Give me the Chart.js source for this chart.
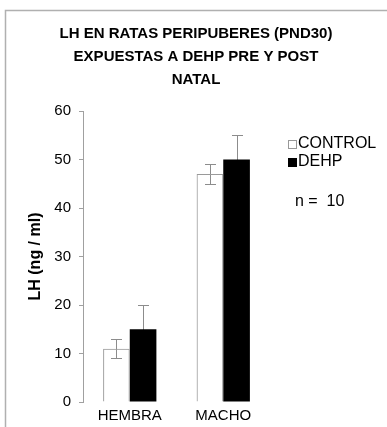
<!DOCTYPE html>
<html>
<head>
<meta charset="utf-8">
<script src="https://cdn.jsdelivr.net/npm/chart.js@4.4.0/dist/chart.umd.min.js"></script>
<style>
html,body{margin:0;padding:0;background:#fff;}
#wrap{width:387px;height:427px;position:relative;}
</style>
</head>
<body>
<div id="wrap"><canvas id="c" width="387" height="427"></canvas></div>
<script>
const categories = ["HEMBRA", "MACHO"];
const seriesNames = ["CONTROL", "DEHP"];
const controlValues = [11, 47];
const controlErrors = [2, 2];
const dehpValues = [15, 50];
const dehpErrors = [5, 5];
const titleLines = ["LH EN RATAS PERIPUBERES (PND30)", "EXPUESTAS A DEHP PRE Y POST", "NATAL"];
const yAxisTitle = "LH (ng / ml)";
const noteText = "n =  10";
const yMin = 0, yMax = 60, yStep = 10;

const FONT = "'Liberation Sans', Arial, sans-serif";
const errors = [controlErrors, dehpErrors];

const framePlugin = {
  id: 'frame',
  beforeDraw(chart) {
    const ctx = chart.ctx;
    ctx.save();
    ctx.fillStyle = '#fff';
    ctx.fillRect(0, 0, chart.width, chart.height);
    ctx.strokeStyle = '#b0b0b0';
    ctx.lineWidth = 1.5;
    ctx.beginPath();
    ctx.moveTo(5.5, chart.height);
    ctx.lineTo(5.5, 10.5);
    ctx.lineTo(chart.width, 10.5);
    ctx.stroke();
    // title
    ctx.fillStyle = '#000';
    ctx.font = "bold 15px " + FONT;
    ctx.textAlign = 'center';
    ctx.textBaseline = 'middle';
    titleLines.forEach((t, i) => ctx.fillText(t, 196, 34 + i * 23));
    ctx.restore();
  }
};

const errorPlugin = {
  id: 'errbars',
  beforeDatasetsDraw(chart) {
    const ctx = chart.ctx;
    const y = chart.scales.y;
    ctx.save();
    ctx.strokeStyle = '#8c8c8c';
    ctx.lineWidth = 1;
    chart.data.datasets.forEach((ds, di) => {
      const meta = chart.getDatasetMeta(di);
      meta.data.forEach((bar, i) => {
        const v = ds.data[i], e = errors[di][i];
        const x = Math.round(bar.x) + 0.5;
        const yt = Math.round(y.getPixelForValue(v + e)) + 0.5;
        const yb = Math.round(y.getPixelForValue(v - e)) + 0.5;
        const cap = 5.5;
        ctx.beginPath();
        ctx.moveTo(x, yt); ctx.lineTo(x, yb);
        ctx.moveTo(x - cap, yt); ctx.lineTo(x + cap, yt);
        ctx.moveTo(x - cap, yb); ctx.lineTo(x + cap, yb);
        ctx.stroke();
      });
    });
    ctx.restore();
  }
};

const legendPlugin = {
  id: 'customLegend',
  afterDraw(chart) {
    const ctx = chart.ctx;
    ctx.save();
    ctx.font = "16px " + FONT;
    ctx.textBaseline = 'middle';
    const rows = [144, 162];
    chart.data.datasets.forEach((ds, i) => {
      const by = rows[i];
      if (i === 0) {
        ctx.fillStyle = '#fff';
        ctx.fillRect(288.5, by - 3.5, 8, 8);
        ctx.strokeStyle = '#999';
        ctx.lineWidth = 1;
        ctx.strokeRect(288.5, by - 3.5, 8, 8);
      } else {
        ctx.fillStyle = '#000';
        ctx.fillRect(288, by - 4, 9, 9);
      }
      ctx.fillStyle = '#000';
      ctx.fillText(ds.label, 298, by);
    });
    ctx.fillText(noteText, 295, 202);
    ctx.restore();
  }
};

new Chart(document.getElementById('c'), {
  type: 'bar',
  data: {
    labels: categories,
    datasets: [
      { label: seriesNames[0], data: controlValues, backgroundColor: 'rgba(255,255,255,0)', borderColor: '#9a9a9a', borderWidth: 1, borderSkipped: 'bottom' },
      { label: seriesNames[1], data: dehpValues, backgroundColor: '#000000', borderColor: '#000000', borderWidth: 0 }
    ]
  },
  options: {
    responsive: false,
    animation: false,
    events: [],
    layout: { padding: { left: 0, right: 117, top: 111, bottom: 0 } },
    plugins: {
      legend: { display: false },
      tooltip: { enabled: false },
      title: { display: false }
    },
    datasets: { bar: { barPercentage: 1, categoryPercentage: 0.57 } },
    scales: {
      x: {
        afterFit(s) { s.height = 25; },
        grid: { display: false, drawTicks: false },
        border: { display: false },
        ticks: { color: '#000', font: { family: FONT, size: 15 }, padding: 5 }
      },
      y: {
        min: yMin, max: yMax,
        afterFit(s) { s.width = 83; },
        grid: { drawOnChartArea: false, drawTicks: true, tickLength: 4, color: '#a0a0a0' },
        border: { display: true, color: '#a0a0a0', width: 1 },
        ticks: { stepSize: yStep, color: '#000', font: { family: FONT, size: 15 }, padding: 8 },
        title: { display: true, text: yAxisTitle, color: '#000', font: { family: FONT, size: 16, weight: 'bold', lineHeight: 1.2 }, padding: { top: 26, bottom: 0 } }
      }
    }
  },
  plugins: [framePlugin, errorPlugin, legendPlugin]
});
</script>
</body>
</html>
